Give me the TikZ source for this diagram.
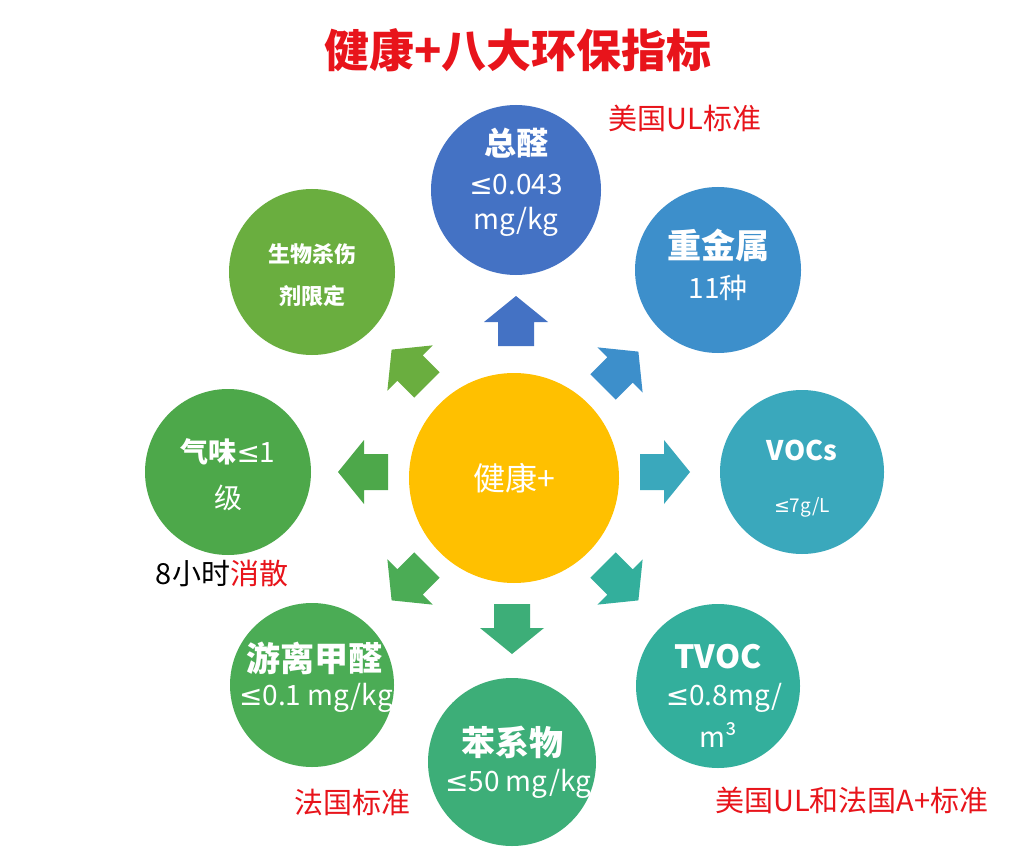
\documentclass[tikz,border=0pt]{standalone}
\usepackage{fontspec}
\setmainfont{Noto Sans CJK SC}
\newfontfamily\symf{DejaVu Sans}
\newcommand{\myle}{{\symf ≤}}
\usetikzlibrary{shapes.arrows}
\definecolor{tred}{HTML}{E8141B}
\definecolor{cc}{HTML}{FFC000}
\definecolor{k1}{HTML}{4472C4}
\definecolor{k2}{HTML}{3D8FCB}
\definecolor{k3}{HTML}{3AA8BC}
\definecolor{k4}{HTML}{33AF9C}
\definecolor{k5}{HTML}{3DAE78}
\definecolor{k6}{HTML}{4BAC55}
\definecolor{k7}{HTML}{4DA84A}
\definecolor{k8}{HTML}{6AAE3F}
\tikzset{
 circ/.style={circle,fill=#1,text=white,align=center,inner sep=0pt},
 wt/.style={text=white,font=\fontsize{#1}{#1}\selectfont},
 wb/.style={text=white,font=\fontsize{#1}{#1}\selectfont\bfseries},
 lab/.style={text=tred,font=\fontsize{29}{31}\selectfont}
}
\newcommand{\barrow}[3]{\fill[#1,shift={#2},rotate=#3] (-24,-18)--(0,-18)--(0,-32)--(26,0)--(0,32)--(0,18)--(-24,18)--cycle;}
\begin{document}
\begin{tikzpicture}[x=1pt,y=-1pt]
\useasboundingbox (0,0) rectangle (1032,850);
\fill[white] (0,0) rectangle (1032,850);
\node[text=tred,font=\fontsize{45}{48}\selectfont\bfseries] (title) at (518,50) {健康+八大环保指标};
\node[circ=cc,minimum size=210pt,font=\fontsize{32}{34}\selectfont] (c) at (514,478) {健康+};
\node[circ=k1,minimum size=170pt] (a1) at (516,190) {};
\node[wb=32] at (516,143) {总醛};
\node[wt=28] at (516,185) {\myle0.043};
\node[wt=28] at (516,222) {mg/kg};
\node[circ=k2,minimum size=166pt] (a2) at (718,270) {};
\node[wb=34] at (718,245) {重金属};
\node[wt=28] at (718,288) {11种};
\node[circ=k3,minimum size=164pt] (a3) at (802,472) {};
\node[wb=27] at (802,450) {VOCs};
\node[wt=19] at (802,507) {\myle7g/L};
\node[circ=k4,minimum size=164pt] (a4) at (718,686) {};
\node[wb=32] at (718,657) {TVOC};
\node[wt=28] at (724,698) {\myle0.8mg/};
\node[wt=28] at (718,735) {m³};
\node[circ=k5,minimum size=168pt] (a5) at (512,762) {};
\begin{scope}
\clip (a5) circle (84);
\node[wb=34] at (512,742) {苯系物};
\node[wt=28] at (518,784) {\myle50 mg/kg};
\end{scope}
\node[circ=k6,minimum size=164pt] (a6) at (312,685) {};
\begin{scope}
\clip (a6) circle (82);
\node[wb=34] at (314,658) {游离甲醛};
\node[wt=28] at (316,698) {\myle0.1 mg/kg};
\end{scope}
\node[circ=k7,minimum size=166pt] (a7) at (228,472) {};
\node[wt=28] at (228,452) {\textbf{气味}\myle1};
\node[wt=28] at (228,498) {级};
\node[circ=k8,minimum size=166pt] (a8) at (312,272) {};
\node[wb=22] at (312,254) {生物杀伤};
\node[wb=22] at (312,296) {剂限定};
\barrow{k1}{(516,322)}{90}
\barrow{k2}{(620,370)}{45}
\barrow{k3}{(664,472)}{0}
\barrow{k4}{(620,582)}{-45}
\barrow{k5}{(512,628)}{-90}
\barrow{k6}{(410,582)}{-135}
\barrow{k7}{(364,472)}{180}
\barrow{k8}{(410,368)}{135}
\node[lab] (l1) at (685,118) {美国UL标准};
\node[lab] (l2) at (222,573) {\textcolor{black}{8小时}消散};
\node[lab] (l3) at (352,802) {法国标准};
\node[lab] (l4) at (852,800) {美国UL和法国A+标准};
\end{tikzpicture}
\end{document}
